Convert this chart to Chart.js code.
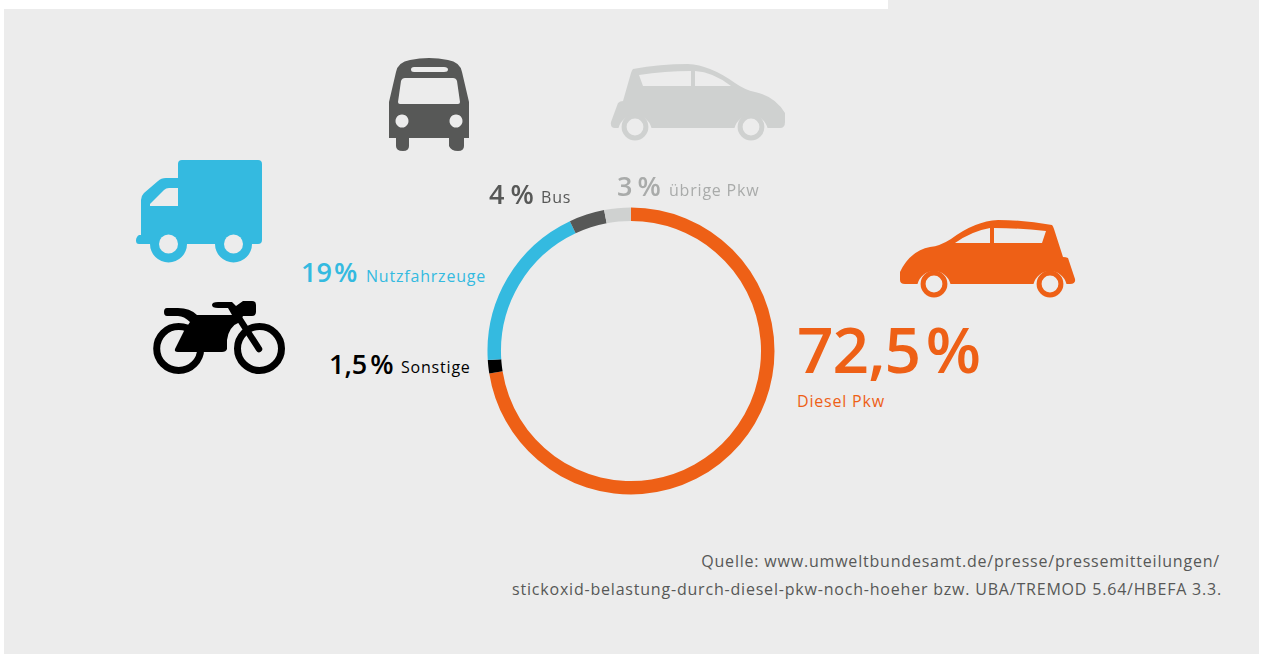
<!DOCTYPE html>
<html lang="de"><head><meta charset="utf-8">
<script src="https://cdn.jsdelivr.net/npm/chart.js@4"></script>
<style>
html,body{margin:0;padding:0;background:#fff;width:1262px;height:654px;overflow:hidden}
#panel{position:absolute;left:4px;top:9px;width:1255px;height:645px;background:#ececec}
#panel2{position:absolute;left:888px;top:0;width:371px;height:9px;background:#ececec}
#wrap{position:absolute;left:487px;top:207px;width:288px;height:288px}
.t{position:absolute;white-space:nowrap;font-family:"Open Sans","Noto Sans",sans-serif;line-height:1}
.p{font-weight:600}
.n{letter-spacing:.8px}
svg{position:absolute;left:0;top:0}
</style></head><body>
<div id="panel"></div><div id="panel2"></div>
<svg width="1262" height="654" viewBox="0 0 1262 654">
 <g id="bus" fill="#575857" fill-rule="evenodd">
  <path d="M389 138V102L396 72Q398 62 410 60Q429 56 448 60Q460 62 462 72L469 102V138H464V146Q464 151 458 151Q451 151 449 146V138H409V146Q409 151 403 151Q396 151 396 146V138Z
  M414 67Q411 67 411 69.500Q411 72 414 72H444Q448 72 448 69.500Q448 67 444 67Z
  M405 78Q402 78 401 81L398 102Q398 104 400 104H458Q460 104 460 102L457 81Q456 78 453 78Z
  M402 114.500a6.500 6.500 0 1 0 .01 0Z M456 114.500a6.500 6.500 0 1 0 .01 0Z"/>
 </g>
 <g id="truck" fill="#34bae0">
  <path d="M178 164Q178 160 182 160H258Q262 160 262 164V240Q262 244 258 244H252A18.500 18.500 0 0 1 215 244H187A18.500 18.500 0 0 1 150 244H139Q136 244 136 240.500Q136 237 139 235H141V200Q141 196 144 193L158 181Q161 178 166 178H178Z"/>
  <path d="M178 188V206H150V204L164 190Q166 188 169 188Z" fill="#ececec"/>
  <circle cx="168.500" cy="244" r="9.500" fill="#ececec"/><circle cx="233.500" cy="244" r="9.500" fill="#ececec"/>
 </g>
 <g id="moto">
  <path d="M167 308H178Q190 308 197 315L230 315 232 315 228 308H218Q212 308 212 305Q212 302 218 302H232L236 306 243 301H252Q256 301 256 305V312Q256 316 252 316H243L240 322Q229 326 227 340V349Q226 352 222 352H178Q174 352 175 349L184 331 190 322Q184 316 178 316H167Q164 316 164 312Q164 308 167 308Z"/>
  <circle cx="178.700" cy="348.500" r="22" fill="none" stroke="#000" stroke-width="7"/>
  <circle cx="259.500" cy="348.500" r="22" fill="none" stroke="#000" stroke-width="7"/>
  <path d="M235 312L259 349" fill="none" stroke="#000" stroke-width="6.500" stroke-linecap="round"/>
 </g>
 <g id="carGrey">
  <path fill="#cfd1d0" fill-rule="evenodd" d="M633 69Q660 64 688 64Q710 65 735 83Q745 90 755 92Q775 96 785 113V122Q785 128 780 128H767.500A17 17 0 0 0 734.500 128H651.500A17 17 0 0 0 618.500 128H615Q610 128 611 122L618 103Q620 101 623 101L631 73Q632 70 633 69Z
  M639 75L643 86H691V71Q665 71 639 75Z M695 71V86H731Q713 72 695 71Z"/>
  <circle cx="635" cy="127" r="10.900" fill="#ececec" stroke="#cfd1d0" stroke-width="5"/>
  <circle cx="751" cy="127" r="10.900" fill="#ececec" stroke="#cfd1d0" stroke-width="5"/>
 </g>
 <g id="carOrange">
  <path fill="#ee6016" fill-rule="evenodd" d="M1052 225Q1025 220 998 220Q975 221 951 239Q940 246 930 247Q910 251 900 272V280Q900 284 905 284H917.500A17 17 0 0 1 950.500 284H1033.500A17 17 0 0 1 1066.500 284H1070Q1076 284 1075 279L1068 258Q1066 257 1063 257L1054 229Q1053 226 1052 225Z
  M1046 231L1042 243H994V228Q1020 228 1046 231Z M990 228V243H955Q972 231 990 228Z"/>
  <circle cx="934" cy="284" r="10.900" fill="#ececec" stroke="#ee6016" stroke-width="5"/>
  <circle cx="1050" cy="284" r="10.900" fill="#ececec" stroke="#ee6016" stroke-width="5"/>
 </g>
</svg>
<div id="wrap"><canvas id="c"></canvas></div>
<div id="labels"></div>
<script>
const categories = ["Diesel Pkw","Sonstige","Nutzfahrzeuge","Bus","übrige Pkw"];
const values = [72.5,1.5,19,4,3];
const valueLabels = ["72,5 %","1,5 %","19 %","4 %","3 %"];
const colors = ["#ee6016","#000000","#34bae0","#575857","#cfd1d0"];
const textColors = ["#ee6016","#000000","#34bae0","#575857","#a9abaa"];
const sourceLines = ["Quelle: www.umweltbundesamt.de/presse/pressemitteilungen/","stickoxid-belastung-durch-diesel-pkw-noch-hoeher bzw. UBA/TREMOD 5.64/HBEFA 3.3."];

new Chart(document.getElementById("c"),{type:"doughnut",
 data:{labels:categories,datasets:[{data:values,backgroundColor:colors,borderWidth:0}]},
 options:{responsive:true,maintainAspectRatio:false,animation:false,cutout:"90.6%",
  layout:{padding:0.5},plugins:{legend:{display:false},tooltip:{enabled:false}}}});

const L=document.getElementById("labels");
function put(txt,cls,css){const d=document.createElement("div");d.className="t "+cls;d.textContent=txt;Object.assign(d.style,css);L.appendChild(d);return d;}
const px={p:[[797,317,64,-10,-1],[329,350,27,-4,0],[301,258,27,-5,0],[489,180,27,-1,0],[617,172,27,-2,0]],
          n:[[797,393,16],[401,359,16],[366,268,16],[541,189,16],[669,182,16]]};
values.forEach((v,i)=>{
 const q=px.p[i];
 put(valueLabels[i],"p",{left:q[0]+"px",top:q[1]+"px",fontSize:q[2]+"px",wordSpacing:q[3]+"px",letterSpacing:q[4]+"px",color:textColors[i]});
 put(categories[i],"n",{left:px.n[i][0]+"px",top:px.n[i][1]+"px",fontSize:px.n[i][2]+"px",color:textColors[i]});
});
sourceLines.forEach((s,i)=>put(s,"n",{right:(i?40:42)+"px",top:(i?581:553)+"px",fontSize:"16px",color:"#575857"}));
</script>
</body></html>
